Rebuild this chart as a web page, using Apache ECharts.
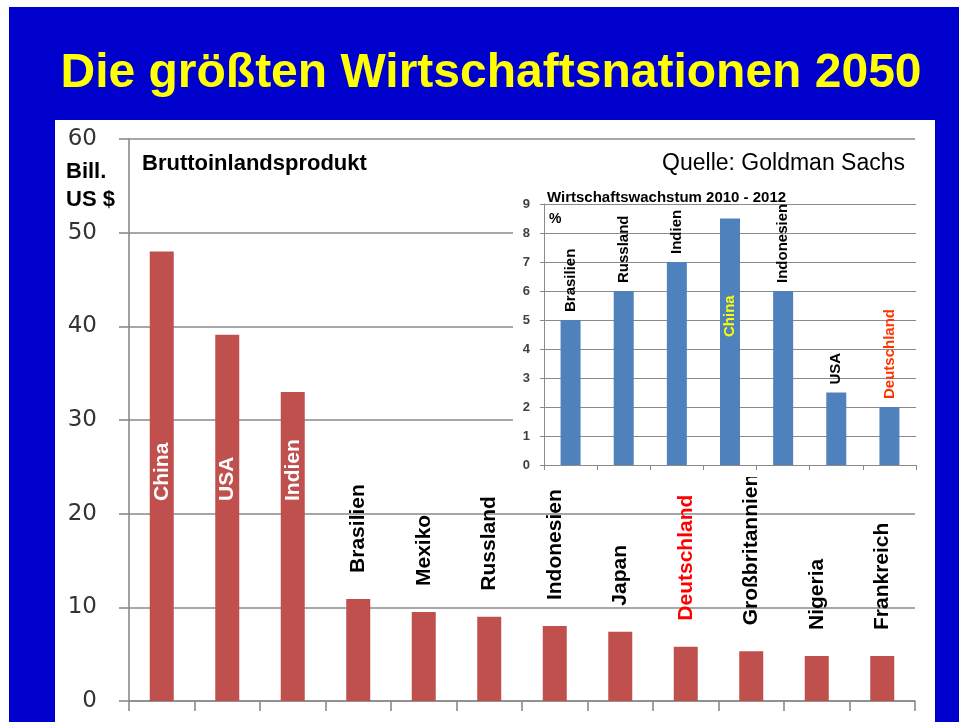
<!DOCTYPE html>
<html>
<head>
<meta charset="utf-8">
<script src="https://cdn.jsdelivr.net/npm/echarts@6/dist/echarts.min.js"></script>
<style>
  html, body { margin:0; padding:0; background:#ffffff; }
  #blue { position:absolute; left:9px; top:7px; width:950px; height:715px; background:#0000CC; }
  #panel { position:absolute; left:55px; top:120px; width:880px; height:602px; background:#ffffff; }
  #chart { position:absolute; left:0; top:0; width:959px; height:722px; }
</style>
</head>
<body>
<div id="blue"></div>
<div id="panel"></div>
<div id="chart"></div>
<script>
// ---- data ----
const mainCategories = ['China','USA','Indien','Brasilien','Mexiko','Russland','Indonesien','Japan','Deutschland','Großbritannien','Nigeria','Frankreich'];
const mainValues = [48, 39.1, 33, 10.9, 9.5, 9.0, 8.0, 7.4, 5.8, 5.3, 4.8, 4.8];
const mainInsideLabels = ['China','USA','Indien'];
const mainRedLabels = ['Deutschland'];

const insetCategories = ['Brasilien','Russland','Indien','China','Indonesien','USA','Deutschland'];
const insetValues = [5, 6, 7, 8.5, 6, 2.5, 2];
const insetInsideLabels = ['China'];
const insetRedLabels = ['Deutschland'];

const titleText = 'Die größten Wirtschaftsnationen 2050';
const mainUnit = ['Bill.', 'US $'];
const mainTitle = 'Bruttoinlandsprodukt';
const sourceText = 'Quelle: Goldman Sachs';
const insetTitle = 'Wirtschaftswachstum 2010 - 2012';
const insetUnit = '%';

// ---- chart ----
const FONT = "'Liberation Sans', Arial, sans-serif";
const GRID_GRAY = '#8a8a8a';

const mainData = mainCategories.map((name, i) => {
  const inside = mainInsideLabels.includes(name);
  return {
    value: mainValues[i],
    label: inside ? {
      position: 'insideBottom', distance: 200, color: '#ffffff'
    } : {
      position: 'top', distance: 26,
      color: mainRedLabels.includes(name) ? '#FF0000' : '#000000'
    }
  };
});

const insetData = insetCategories.map((name, i) => {
  const inside = insetInsideLabels.includes(name);
  return {
    value: insetValues[i],
    label: inside ? {
      position: 'insideBottom', distance: 128, color: '#FFFF00'
    } : {
      position: 'top', distance: 8,
      color: insetRedLabels.includes(name) ? '#FF3300' : '#000000'
    }
  };
});

const chart = echarts.init(document.getElementById('chart'), null, {renderer: 'canvas'});
chart.setOption({
  backgroundColor: 'transparent',
  animation: false,
  grid: [
    {left: 129, right: 44, top: 139, bottom: 21, containLabel: false},
    {left: 544, right: 43, top: 204, bottom: 257, containLabel: false}
  ],
  xAxis: [
    {
      type: 'category', gridIndex: 0, data: mainCategories, boundaryGap: true,
      axisLine: {show: true, lineStyle: {color: GRID_GRAY, width: 1.6}},
      axisTick: {show: true, length: 10, interval: 0, alignWithLabel: false, lineStyle: {color: GRID_GRAY, width: 1.6}},
      axisLabel: {show: false},
      splitLine: {show: false}
    },
    {
      type: 'category', gridIndex: 1, data: insetCategories, boundaryGap: true, z: 6,
      axisLine: {show: true, lineStyle: {color: GRID_GRAY, width: 1}},
      axisTick: {show: true, length: 5, interval: 0, alignWithLabel: false, lineStyle: {color: GRID_GRAY, width: 1}},
      axisLabel: {show: false},
      splitLine: {show: false}
    }
  ],
  yAxis: [
    {
      type: 'value', gridIndex: 0, min: 0, max: 60, interval: 10,
      axisLine: {show: true, lineStyle: {color: GRID_GRAY, width: 1.6}},
      axisTick: {show: true, length: 10, lineStyle: {color: GRID_GRAY, width: 1.6}},
      splitLine: {show: true, lineStyle: {color: GRID_GRAY, width: 1.6}},
      axisLabel: {show: true, margin: 32, color: '#333333', fontSize: 23, fontFamily: "'DejaVu Sans', Verdana, sans-serif"}
    },
    {
      type: 'value', gridIndex: 1, min: 0, max: 9, interval: 1, z: 6,
      axisLine: {show: true, lineStyle: {color: GRID_GRAY, width: 1}},
      axisTick: {show: true, length: 4, lineStyle: {color: GRID_GRAY, width: 1}},
      splitLine: {show: true, lineStyle: {color: GRID_GRAY, width: 1}},
      axisLabel: {show: true, margin: 14, color: '#404040', fontSize: 13, fontWeight: 'bold', fontFamily: FONT}
    }
  ],
  series: [
    {
      type: 'bar', xAxisIndex: 0, yAxisIndex: 0, data: mainData, barWidth: 24,
      itemStyle: {color: '#C0504D'},
      label: {show: true, formatter: '{b}', rotate: 90, align: 'left', verticalAlign: 'middle',
              fontSize: 21, fontWeight: 'bold', fontFamily: FONT}
    },
    {
      type: 'bar', xAxisIndex: 1, yAxisIndex: 1, data: insetData, barWidth: 20, z: 7,
      itemStyle: {color: '#4F81BD'},
      label: {show: true, formatter: '{b}', rotate: 90, align: 'left', verticalAlign: 'middle',
              fontSize: 15, fontWeight: 'bold', fontFamily: FONT}
    }
  ],
  graphic: [
    {type: 'rect', z: 5, shape: {x: 513, y: 185, width: 422, height: 292}, style: {fill: '#ffffff'}},
    {type: 'text', z: 10, x: 491, y: 74, style: {text: titleText, fill: '#FFFF00', font: 'bold 48px ' + FONT, textAlign: 'center', textVerticalAlign: 'middle'}},
    {type: 'text', z: 10, x: 66, y: 172, style: {text: mainUnit[0], fill: '#000', font: 'bold 22px ' + FONT, textAlign: 'left', textVerticalAlign: 'middle'}},
    {type: 'text', z: 10, x: 66, y: 200, style: {text: mainUnit[1], fill: '#000', font: 'bold 22px ' + FONT, textAlign: 'left', textVerticalAlign: 'middle'}},
    {type: 'text', z: 10, x: 142, y: 164, style: {text: mainTitle, fill: '#000', font: 'bold 22px ' + FONT, textAlign: 'left', textVerticalAlign: 'middle'}},
    {type: 'text', z: 10, x: 905, y: 164, style: {text: sourceText, fill: '#000', font: '23px ' + FONT, textAlign: 'right', textVerticalAlign: 'middle'}},
    {type: 'text', z: 10, x: 547, y: 198, style: {text: insetTitle, fill: '#000', font: 'bold 15px ' + FONT, textAlign: 'left', textVerticalAlign: 'middle'}},
    {type: 'text', z: 10, x: 549, y: 219, style: {text: insetUnit, fill: '#000', font: 'bold 14px ' + FONT, textAlign: 'left', textVerticalAlign: 'middle'}}
  ]
});
</script>
</body>
</html>
